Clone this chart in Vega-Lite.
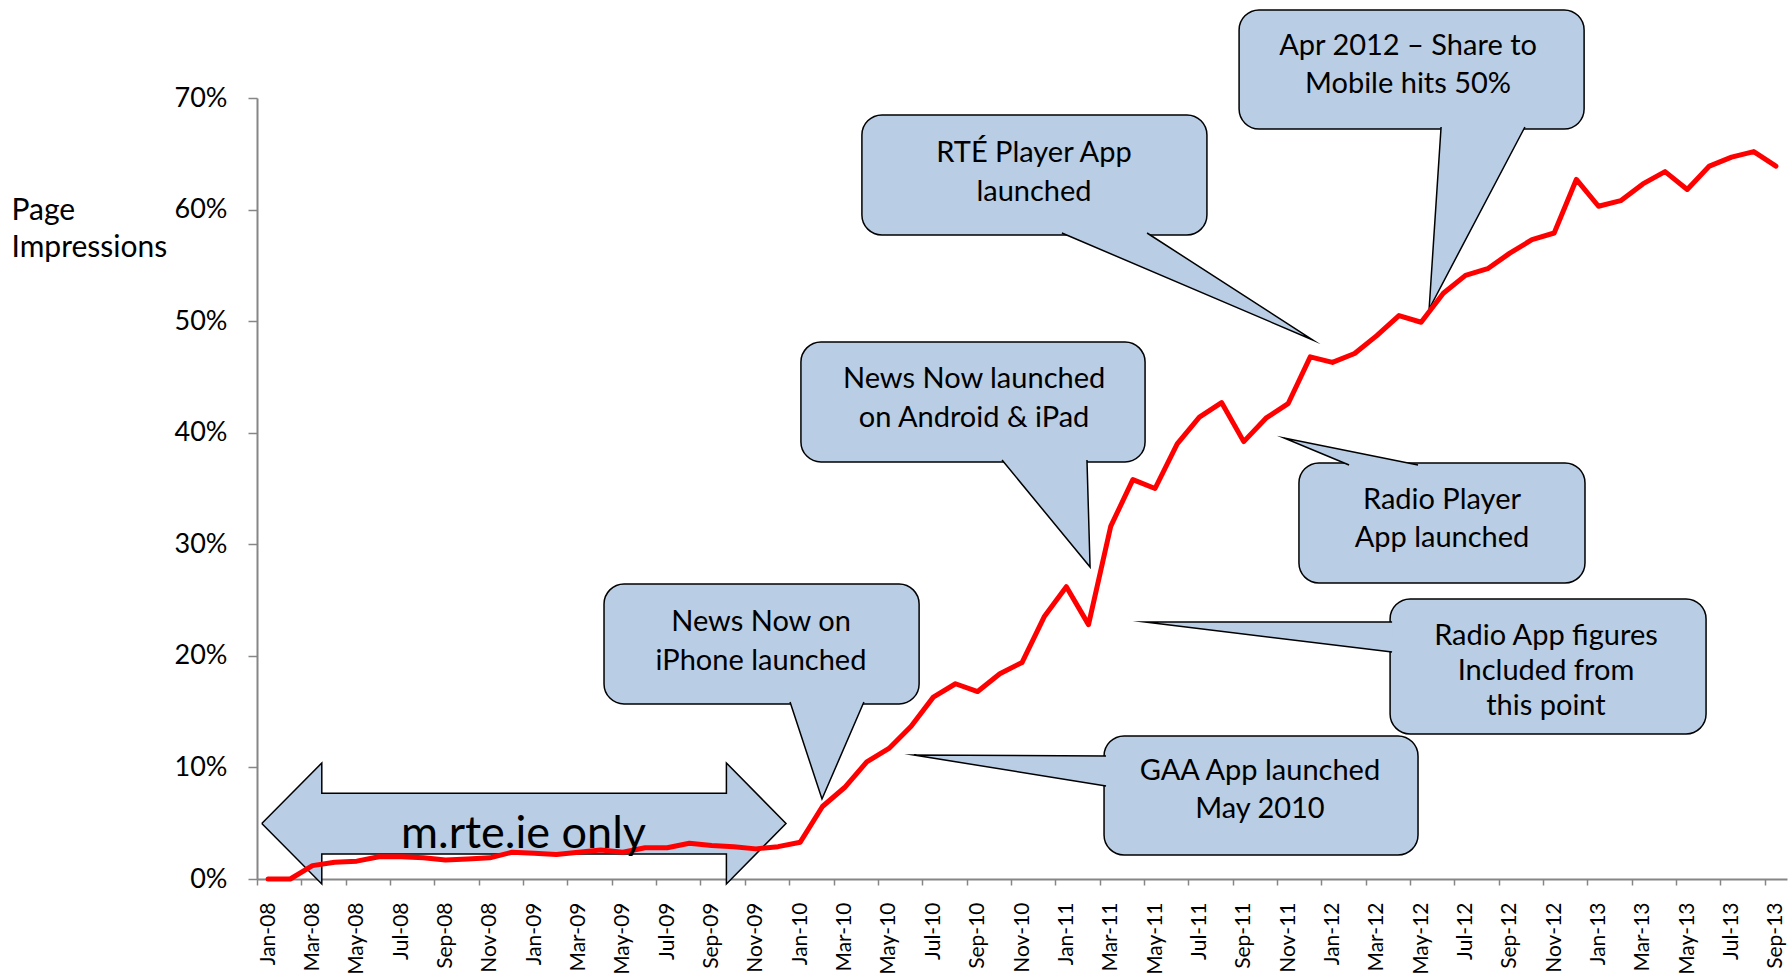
{
  "$schema": "https://vega.github.io/schema/vega-lite/v6.json",
  "width": 1530,
  "height": 781,
  "autosize": {"type": "none"},
  "padding": {"left": 257, "top": 98, "right": 3, "bottom": 98},
  "background": "white",
  "config": {"view": {"stroke": null}, "font": "Lato"},
  "datasets": {
    "series": [
      {"i": 0, "v": 0}, {"i": 1, "v": 0}, {"i": 2, "v": 0.012}, {"i": 3, "v": 0.015},
      {"i": 4, "v": 0.016}, {"i": 5, "v": 0.020}, {"i": 6, "v": 0.020}, {"i": 7, "v": 0.019},
      {"i": 8, "v": 0.017}, {"i": 9, "v": 0.018}, {"i": 10, "v": 0.019}, {"i": 11, "v": 0.024},
      {"i": 12, "v": 0.023}, {"i": 13, "v": 0.022}, {"i": 14, "v": 0.024}, {"i": 15, "v": 0.026},
      {"i": 16, "v": 0.024}, {"i": 17, "v": 0.028}, {"i": 18, "v": 0.028}, {"i": 19, "v": 0.032},
      {"i": 20, "v": 0.030}, {"i": 21, "v": 0.029}, {"i": 22, "v": 0.027}, {"i": 23, "v": 0.029},
      {"i": 24, "v": 0.033}, {"i": 25, "v": 0.065}, {"i": 26, "v": 0.082}, {"i": 27, "v": 0.105},
      {"i": 28, "v": 0.117}, {"i": 29, "v": 0.137}, {"i": 30, "v": 0.163}, {"i": 31, "v": 0.175},
      {"i": 32, "v": 0.168}, {"i": 33, "v": 0.184}, {"i": 34, "v": 0.194}, {"i": 35, "v": 0.235},
      {"i": 36, "v": 0.262}, {"i": 37, "v": 0.228}, {"i": 38, "v": 0.316}, {"i": 39, "v": 0.358},
      {"i": 40, "v": 0.350}, {"i": 41, "v": 0.390}, {"i": 42, "v": 0.414}, {"i": 43, "v": 0.427},
      {"i": 44, "v": 0.392}, {"i": 45, "v": 0.413}, {"i": 46, "v": 0.426}, {"i": 47, "v": 0.468},
      {"i": 48, "v": 0.463}, {"i": 49, "v": 0.471}, {"i": 50, "v": 0.487}, {"i": 51, "v": 0.505},
      {"i": 52, "v": 0.499}, {"i": 53, "v": 0.525}, {"i": 54, "v": 0.541}, {"i": 55, "v": 0.547},
      {"i": 56, "v": 0.561}, {"i": 57, "v": 0.573}, {"i": 58, "v": 0.579}, {"i": 59, "v": 0.627},
      {"i": 60, "v": 0.603}, {"i": 61, "v": 0.608}, {"i": 62, "v": 0.623}, {"i": 63, "v": 0.634},
      {"i": 64, "v": 0.618}, {"i": 65, "v": 0.639}, {"i": 66, "v": 0.647}, {"i": 67, "v": 0.652},
      {"i": 68, "v": 0.639}
    ],
    "boxes": [
      {"id": "rte", "x1": 26.78, "x2": 42.34, "y1": 0.5772, "y2": 0.6848},
      {"id": "apr", "x1": 43.79, "x2": 59.35, "y1": 0.6722, "y2": 0.7789},
      {"id": "android", "x1": 24.03, "x2": 39.55, "y1": 0.3738, "y2": 0.4813},
      {"id": "radioplayer", "x1": 46.49, "x2": 59.39, "y1": 0.2653, "y2": 0.3729},
      {"id": "radioapp", "x1": 50.60, "x2": 64.85, "y1": 0.1300, "y2": 0.2510},
      {"id": "gaa", "x1": 37.70, "x2": 51.86, "y1": 0.0215, "y2": 0.1282},
      {"id": "iphone", "x1": 15.15, "x2": 29.36, "y1": 0.1569, "y2": 0.2644}
    ],
    "shapes": [
      {"id": "p_rte", "k": 0, "x": 35.80, "y": 0.5790},
      {"id": "p_rte", "k": 1, "x": 47.12, "y": 0.4831},
      {"id": "p_rte", "k": 2, "x": 39.64, "y": 0.5790},
      {"id": "p_apr", "k": 0, "x": 52.90, "y": 0.6740},
      {"id": "p_apr", "k": 1, "x": 52.36, "y": 0.5109},
      {"id": "p_apr", "k": 2, "x": 56.68, "y": 0.6740},
      {"id": "p_android", "k": 0, "x": 33.10, "y": 0.3755},
      {"id": "p_android", "k": 1, "x": 37.07, "y": 0.2796},
      {"id": "p_android", "k": 2, "x": 36.93, "y": 0.3755},
      {"id": "p_radioplayer", "k": 0, "x": 48.75, "y": 0.3711},
      {"id": "p_radioplayer", "k": 1, "x": 45.82, "y": 0.3953},
      {"id": "p_radioplayer", "k": 2, "x": 51.86, "y": 0.3711},
      {"id": "p_radioapp", "k": 0, "x": 50.69, "y": 0.2303},
      {"id": "p_radioapp", "k": 1, "x": 39.55, "y": 0.2303},
      {"id": "p_radioapp", "k": 2, "x": 50.69, "y": 0.2035},
      {"id": "p_gaa", "k": 0, "x": 37.79, "y": 0.1102},
      {"id": "p_gaa", "k": 1, "x": 29.13, "y": 0.1111},
      {"id": "p_gaa", "k": 2, "x": 37.79, "y": 0.0834},
      {"id": "p_iphone", "k": 0, "x": 23.54, "y": 0.1586},
      {"id": "p_iphone", "k": 1, "x": 24.98, "y": 0.0717},
      {"id": "p_iphone", "k": 2, "x": 26.87, "y": 0.1586},
      {"id": "arrow", "k": 0, "x": -0.284, "y": 0.0497},
      {"id": "arrow", "k": 1, "x": 2.422, "y": 0.1040},
      {"id": "arrow", "k": 2, "x": 2.422, "y": 0.0768},
      {"id": "arrow", "k": 3, "x": 20.669, "y": 0.0768},
      {"id": "arrow", "k": 4, "x": 20.669, "y": 0.1040},
      {"id": "arrow", "k": 5, "x": 23.357, "y": 0.0497},
      {"id": "arrow", "k": 6, "x": 20.669, "y": -0.0045},
      {"id": "arrow", "k": 7, "x": 20.669, "y": 0.0224},
      {"id": "arrow", "k": 8, "x": 2.422, "y": 0.0224},
      {"id": "arrow", "k": 9, "x": 2.422, "y": -0.0045},
      {"id": "arrow", "k": 10, "x": -0.284, "y": 0.0497}
    ],
    "texts": [
      {"x": 34.54, "y": 0.6426, "t": "RTÉ Player App"},
      {"x": 34.54, "y": 0.6077, "t": "launched"},
      {"x": 51.41, "y": 0.7386, "t": "Apr 2012 – Share to"},
      {"x": 51.41, "y": 0.7045, "t": "Mobile hits 50%"},
      {"x": 31.84, "y": 0.4401, "t": "News Now launched"},
      {"x": 31.84, "y": 0.4051, "t": "on Android & iPad"},
      {"x": 52.94, "y": 0.3316, "t": "Radio Player"},
      {"x": 52.94, "y": 0.2976, "t": "App launched"},
      {"x": 57.63, "y": 0.2097, "t": "Radio App figures"},
      {"x": 57.63, "y": 0.1784, "t": "Included from"},
      {"x": 57.63, "y": 0.1470, "t": "this point"},
      {"x": 44.73, "y": 0.0887, "t": "GAA App launched"},
      {"x": 44.73, "y": 0.0547, "t": "May 2010"},
      {"x": 22.23, "y": 0.2223, "t": "News Now on"},
      {"x": 22.23, "y": 0.1873, "t": "iPhone launched"}
    ],
    "bigtext": [
      {"x": 11.52, "y": 0.0278, "t": "m.rte.ie only"}
    ]
  },
  "layer": [
    {
      "data": {"name": "boxes"},
      "mark": {"type": "rect", "fill": "#B9CDE5", "stroke": "#000000", "strokeWidth": 1.5, "cornerRadius": 20},
      "encoding": {
        "x": {"field": "x1", "type": "quantitative", "scale": {"domain": [-0.5, 68.5], "nice": false, "zero": false}},
        "x2": {"field": "x2"},
        "y": {"field": "y1", "type": "quantitative", "scale": {"domain": [0, 0.7], "nice": false, "zero": false}},
        "y2": {"field": "y2"}
      }
    },
    {
      "data": {"name": "shapes"},
      "mark": {"type": "line", "fill": "#B9CDE5", "stroke": "#000000", "strokeWidth": 1.5, "strokeJoin": "miter", "strokeMiterLimit": 30},
      "encoding": {
        "x": {"field": "x", "type": "quantitative", "scale": {"domain": [-0.5, 68.5], "nice": false, "zero": false}},
        "y": {"field": "y", "type": "quantitative", "scale": {"domain": [0, 0.7], "nice": false, "zero": false}},
        "detail": {"field": "id", "type": "nominal"},
        "order": {"field": "k", "type": "quantitative"}
      }
    },
    {
      "data": {"name": "series"},
      "mark": {"type": "line", "color": "#FF0000", "strokeWidth": 5, "strokeJoin": "round", "strokeCap": "round"},
      "encoding": {
        "x": {
          "field": "i", "type": "quantitative",
          "scale": {"domain": [-0.5, 68.5], "nice": false, "zero": false},
          "axis": {
            "title": null,
            "grid": false,
            "values": [-0.5, 0.5, 1.5, 2.5, 3.5, 4.5, 5.5, 6.5, 7.5, 8.5, 9.5, 10.5, 11.5, 12.5, 13.5, 14.5, 15.5, 16.5, 17.5, 18.5, 19.5, 20.5, 21.5, 22.5, 23.5, 24.5, 25.5, 26.5, 27.5, 28.5, 29.5, 30.5, 31.5, 32.5, 33.5, 34.5, 35.5, 36.5, 37.5, 38.5, 39.5, 40.5, 41.5, 42.5, 43.5, 44.5, 45.5, 46.5, 47.5, 48.5, 49.5, 50.5, 51.5, 52.5, 53.5, 54.5, 55.5, 56.5, 57.5, 58.5, 59.5, 60.5, 61.5, 62.5, 63.5, 64.5, 65.5, 66.5, 67.5, 68.5],
            "labelExpr": "((datum.value + 0.5) % 2 == 0 && datum.value < 68) ? (['Jan','Feb','Mar','Apr','May','Jun','Jul','Aug','Sep','Oct','Nov','Dec'][(datum.value + 0.5) % 12] + '-' + ((8 + floor((datum.value + 0.5) / 12)) < 10 ? '0' : '') + (8 + floor((datum.value + 0.5) / 12))) : ''",
            "labelAngle": -90,
            "labelAlign": "right",
            "labelBaseline": "middle",
            "labelFont": "Lato",
            "labelFontSize": 21,
            "labelColor": "#000000",
            "labelOffset": 11.087,
            "labelPadding": 17,
            "labelOverlap": false,
            "labelFlush": false,
            "labelBound": false,
            "tickSize": 6,
            "tickColor": "#868686",
            "tickWidth": 1.5,
            "domainColor": "#868686",
            "domainWidth": 2
          }
        },
        "y": {
          "field": "v", "type": "quantitative",
          "scale": {"domain": [0, 0.7], "nice": false, "zero": false},
          "axis": {
            "values": [0, 0.1, 0.2, 0.3, 0.4, 0.5, 0.6, 0.7],
            "format": ".0%",
            "grid": false,
            "labelFont": "Lato",
            "labelFontSize": 27,
            "labelColor": "#000000",
            "labelPadding": 21,
            "tickSize": 9,
            "tickColor": "#868686",
            "tickWidth": 1.5,
            "domainColor": "#868686",
            "domainWidth": 2,
            "title": ["Page", "Impressions"],
            "titleAngle": 0,
            "titleAlign": "left",
            "titleBaseline": "alphabetic",
            "titleX": -246,
            "titleY": 121,
            "titleFont": "Lato",
            "titleFontSize": 30,
            "titleFontWeight": "normal",
            "titleColor": "#000000",
            "titleLineHeight": 37
          }
        }
      }
    },
    {
      "data": {"name": "texts"},
      "mark": {"type": "text", "font": "Lato", "fontSize": 29, "color": "#000000", "align": "center", "baseline": "alphabetic"},
      "encoding": {
        "x": {"field": "x", "type": "quantitative", "scale": {"domain": [-0.5, 68.5], "nice": false, "zero": false}},
        "y": {"field": "y", "type": "quantitative", "scale": {"domain": [0, 0.7], "nice": false, "zero": false}},
        "text": {"field": "t"}
      }
    },
    {
      "data": {"name": "bigtext"},
      "mark": {"type": "text", "font": "Lato", "fontSize": 45, "color": "#000000", "align": "center", "baseline": "alphabetic"},
      "encoding": {
        "x": {"field": "x", "type": "quantitative", "scale": {"domain": [-0.5, 68.5], "nice": false, "zero": false}},
        "y": {"field": "y", "type": "quantitative", "scale": {"domain": [0, 0.7], "nice": false, "zero": false}},
        "text": {"field": "t"}
      }
    }
  ]
}
